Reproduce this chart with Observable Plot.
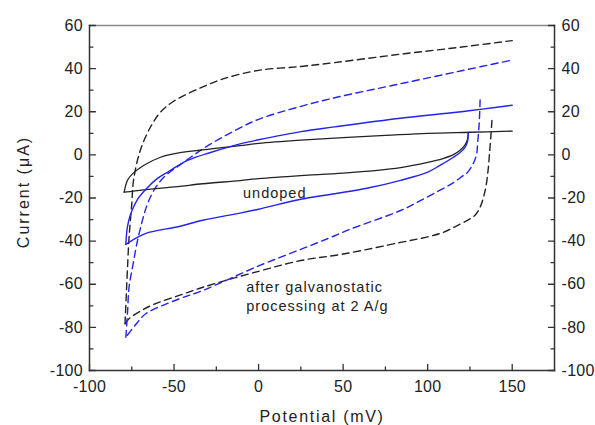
<!DOCTYPE html>
<html>
<head>
<meta charset="utf-8">
<script src="https://cdn.jsdelivr.net/npm/d3@7"></script>
<script src="https://cdn.jsdelivr.net/npm/@observablehq/plot@0.6"></script>
<style>
  html, body { margin: 0; padding: 0; background: #fff; }
</style>
</head>
<body>
<div id="chart"></div>
<script>
// Axis ticks
const potentialTicks = [-100, -50, 0, 50, 100, 150];
const potentialMinorTicks = [-75, -25, 25, 75, 125];
const currentTicks = [-100, -80, -60, -40, -20, 0, 20, 40, 60];
const currentMinorTicks = [-90, -70, -50, -30, -10, 10, 30, 50];

// Undoped (black solid): return sweep then forward sweep
const undopedReturnV = [124, 123.5, 122, 119, 115, 109, 100, 84, 50, 25, 0, -11, -33, -48, -68, -79.5];
const undopedReturnI = [10, 7, 4.5, 2, 0, -1.7, -3.5, -5.9, -8.5, -9.6, -11, -11.9, -13.4, -14.7, -16.2, -17.3];
const undopedForwardV = [-79.5, -77.6, -74.6, -68, -58, -48, -28, -11, 0, 25, 50, 75, 100, 125, 150];
const undopedForwardI = [-17.3, -11.9, -8.8, -4.9, -1.1, 0.8, 2.8, 4.3, 5.3, 6.8, 8, 9, 10, 10.5, 11];

// Blue solid
const blueReturnV = [124, 123.5, 122, 119, 115, 107, 100, 84, 64, 45, 25, 0, -11, -33, -47, -67, -78.5];
const blueReturnI = [10, 6, 3.4, 1, -1.2, -5, -8, -11.8, -15.5, -18, -20.6, -25.2, -27, -30.3, -33.2, -36.5, -41.5];
const blueForwardV = [-78.5, -77.6, -75.6, -71.6, -65.5, -60, -53, -42, -28, -11, 0, 25, 45, 84, 120, 150];
const blueForwardI = [-41.5, -33.5, -27.3, -20.6, -15, -11, -7.6, -2.6, 1.2, 5.1, 7, 10.8, 13, 17, 20, 23];

// Black dashed (after galvanostatic processing)
const blackDashReturnV = [138, 137.3, 136.5, 135.7, 134, 131, 128, 125, 117, 109, 100, 84, 50, 25, 0, -33, -47, -61, -70, -76.6, -79];
const blackDashReturnI = [16, 8, 0, -7.3, -16.5, -24.3, -28, -29.7, -33, -36, -38, -40.6, -46, -49, -54, -61.4, -65.2, -69, -72.5, -76, -78.4];
const blackDashForwardV = [-79, -78.3, -77.6, -76.6, -75, -74, -70, -64, -58, -50, -34, -20, 0, 25, 45, 84, 120, 150];
const blackDashForwardI = [-78.4, -66, -53.6, -38.2, -22.7, -12, 2, 12.8, 19.8, 25, 31.2, 35.5, 39.2, 41, 42.8, 46.7, 50, 53];

// Blue dashed
const blueDashReturnV = [131, 130.5, 129.5, 129, 127, 123, 121, 115, 107, 95, 84, 54, 45, 26, 0, -33, -47, -66.7, -73, -78.5];
const blueDashReturnI = [25.5, 15, 5, 0.6, -4, -8.6, -9.6, -13, -16.5, -21.5, -25.8, -34.5, -37.5, -43.5, -51.5, -62.9, -66.8, -73.7, -79, -84.6];
const blueDashForwardV = [-78.5, -77.5, -76.6, -74.2, -71.6, -68.7, -65.7, -60.8, -55, -48, -40, -28.5, -11, 0, 25, 45, 84, 120, 150];
const blueDashForwardI = [-84.6, -73, -61.4, -50.5, -39.7, -30.4, -22.7, -15, -9.6, -5.5, -1, 5, 12.5, 16.5, 22.5, 26.5, 33, 39, 44];

const toPoints = (vs, is) => vs.map((v, k) => ({v, i: is[k]}));

const black = "#222";
const blue = "#2323f0";
const dash = "7,4.5";
const axisColor = "#333";

function curve(vs, is, stroke, dashed, width) {
  return Plot.line(toPoints(vs, is), {
    x: "v", y: "i", stroke, strokeWidth: width,
    strokeDasharray: dashed ? dash : null,
    curve: "catmull-rom"
  });
}

// inward ticks, drawn as vectors anchored on the frame
const tickShape = {draw(ctx, l) { ctx.moveTo(0, 0); ctx.lineTo(0, -l); }};
function ticks(values, len, side) {
  const rot = side === "bottom" ? 0 : side === "left" ? 90 : -90;
  const ch = side === "bottom" ? {x: d => d} : {y: d => d};
  return Plot.vector(values, {...ch, frameAnchor: side, length: len, rotate: rot, anchor: "start", shape: tickShape, stroke: axisColor, strokeWidth: 1.3});
}

const tickFont = 16;
const fmt = d => String(d);

const chart = Plot.plot({
  width: 595,
  height: 425,
  marginLeft: 89,
  marginRight: 41,
  marginTop: 25,
  marginBottom: 55,
  x: {domain: [-100, 175]},
  y: {domain: [-100, 60]},
  style: {
    fontFamily: "'Liberation Sans', Arial, sans-serif",
    fontSize: "16px",
    color: "#222",
    background: "#fff",
    letterSpacing: "0.3px"
  },
  marks: [
    // tick labels
    Plot.axisX({ticks: potentialTicks, tickSize: 0, tickPadding: 10.3, fontSize: tickFont, label: null, tickFormat: fmt}),
    Plot.axisY({anchor: "left", ticks: currentTicks, tickSize: 0, tickPadding: 6.5, fontSize: tickFont, label: null, tickFormat: fmt}),
    Plot.axisY({anchor: "right", ticks: currentTicks, tickSize: 0, tickPadding: 7, fontSize: tickFont, label: null, tickFormat: fmt}),
    // curves
    curve(blackDashReturnV, blackDashReturnI, black, true, 1.4),
    curve(blackDashForwardV, blackDashForwardI, black, true, 1.4),
    curve(blueDashReturnV, blueDashReturnI, blue, true, 1.4),
    curve(blueDashForwardV, blueDashForwardI, blue, true, 1.4),
    curve(undopedReturnV, undopedReturnI, black, false, 1.3),
    curve(undopedForwardV, undopedForwardI, black, false, 1.3),
    curve(blueReturnV, blueReturnI, blue, false, 1.4),
    curve(blueForwardV, blueForwardI, blue, false, 1.4),
    // annotations
    Plot.text(["undoped"], {x: -9.2, y: -18, text: d => d, textAnchor: "start", lineAnchor: "middle", fontSize: 14.5, fill: "#222"}),
    Plot.text(["after galvanostatic\nprocessing at 2 A/g"], {x: -7.3, y: -57.5, text: d => d, textAnchor: "start", lineAnchor: "top", lineHeight: 1.3, fontSize: 14.5, fill: "#222"}),
    // axis titles
    Plot.text(["Potential (mV)"], {frameAnchor: "bottom", text: d => d, dy: 46, textAnchor: "middle", lineAnchor: "middle", fontSize: 16, fill: "#222"}),
    Plot.text(["Current (\u03bcA)"], {frameAnchor: "left", text: d => d, dx: -66, dy: -6, rotate: -90, textAnchor: "middle", lineAnchor: "middle", fontSize: 16, fill: "#222"}),
    // frame
    Plot.frame({anchor: "top", stroke: "#8a8a8a", strokeWidth: 1.5}),
    Plot.frame({anchor: "left", stroke: axisColor, strokeWidth: 1.5}),
    Plot.frame({anchor: "bottom", stroke: axisColor, strokeWidth: 1.5}),
    Plot.frame({anchor: "right", stroke: axisColor, strokeWidth: 1.5}),
    // inward ticks (on top of everything)
    ticks(potentialTicks, 6, "bottom"),
    ticks(potentialMinorTicks, 3.5, "bottom"),
    ticks(currentTicks, 6, "left"),
    ticks(currentMinorTicks, 3.5, "left"),
    ticks(currentTicks, 6, "right"),
    ticks(currentMinorTicks, 3.5, "right")
  ]
});

// per-text letter spacing to match the reference's wide setting
const spacing = {
  "Potential (mV)": "1.7px",
  "Current (\u03bcA)": "2px",
  "undoped": "1px",
  "after galvanostatic": "1px",
  "processing at 2 A/g": "1px"
};
d3.select(chart).selectAll("text, tspan").each(function() {
  const t = this.textContent;
  if (spacing[t]) this.style.letterSpacing = spacing[t];
});

document.getElementById("chart").appendChild(chart);
</script>
</body>
</html>
